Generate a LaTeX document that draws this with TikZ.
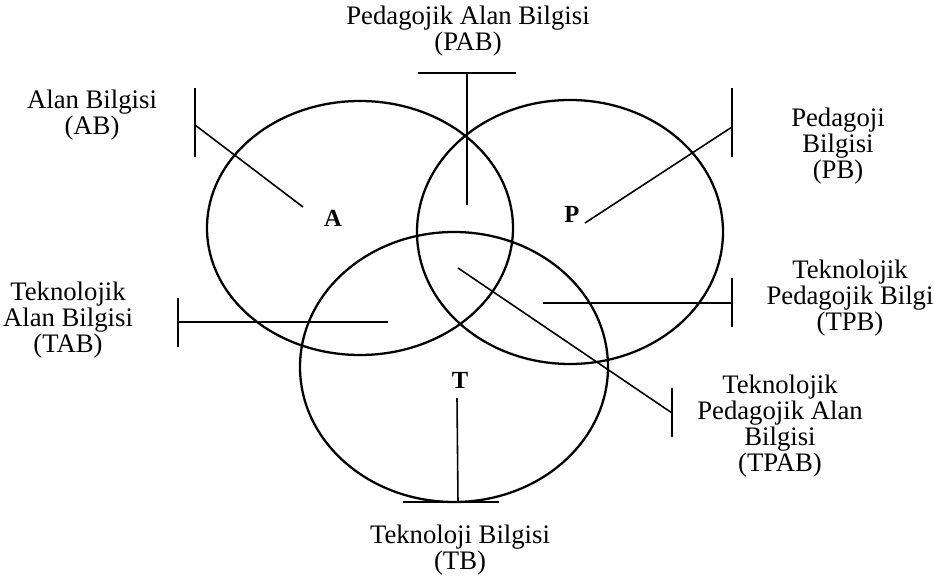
\documentclass[tikz,border=0pt]{standalone}
\usepackage{fontspec}
\setmainfont{Liberation Serif}
\usetikzlibrary{positioning}

\begin{document}
\begin{tikzpicture}[
  x=0.02cm, y=-0.02cm,
  ring/.style={line width=1.3pt},
  lead/.style={line width=0.9pt},
  lbl/.style={align=center, font=\fontsize{15.2}{14.8}\selectfont, inner sep=0pt},
  tag/.style={font=\fontsize{14}{14}\selectfont\bfseries, inner sep=0pt}
]
\useasboundingbox (0,0) rectangle (934,580);
% the three knowledge circles
\draw[ring] (360,228) ellipse [x radius=153, y radius=127];
\draw[ring] (570,232) ellipse [x radius=153, y radius=132];
\draw[ring] (454,367) ellipse [x radius=154, y radius=135];
\node[tag] (A) at (333,218) {A};
\node[tag] (P) at (572,214) {P};
\node[tag] (T) at (460,380) {T};
% labels
\node[lbl] (pab) at (468,31) {Pedagojik Alan Bilgisi\\(PAB)};
\node[lbl] (ab) at (92,115) {Alan Bilgisi\\(AB)};
\node[lbl] (pb) at (838,146) {Pedagoji\\Bilgisi\\(PB)};
\node[lbl] (tpb) at (850,298) {Teknolojik\\Pedagojik Bilgi\\(TPB)};
\node[lbl] (tpab) at (780,426) {Teknolojik\\Pedagojik Alan\\Bilgisi\\(TPAB)};
\node[lbl] (tab) at (68,320) {Teknolojik\\Alan Bilgisi\\(TAB)};
\node[lbl] (tb) at (460,550) {Teknoloji Bilgisi\\(TB)};
% bar ends and inner ends of the leaders
\coordinate (abBar) at (195,125);   \coordinate (abIn) at (303,207);
\coordinate (pabBar) at (467,73);   \coordinate (pabIn) at (467,205);
\coordinate (pbBar) at (732,127);   \coordinate (pbIn) at (585,223);
\coordinate (tpbBar) at (732,303);  \coordinate (tpbIn) at (543,303);
\coordinate (tpabBar) at (672,413); \coordinate (tpabIn) at (458,268);
\coordinate (tabBar) at (178,322);  \coordinate (tabIn) at (388,322);
\coordinate (tbBar) at (458,502);   \coordinate (tbIn) at (457,398);
\draw[lead] (abIn) -- (abBar);
\draw[lead] (pabIn) -- (pabBar);
\draw[lead] (pbIn) -- (pbBar);
\draw[lead] (tpbIn) -- (tpbBar);
\draw[lead] (tpabIn) -- (tpabBar);
\draw[lead] (tabIn) -- (tabBar);
\draw[lead] (tbIn) -- (tbBar);
% end bars
\draw[lead] (abBar) ++(0,-37) -- ++(0,69);
\draw[lead] (pabBar) ++(-49,0) -- ++(98,0);
\draw[lead] (pbBar) ++(0,-39) -- ++(0,69);
\draw[lead] (tpbBar) ++(0,-25) -- ++(0,49);
\draw[lead] (tpabBar) ++(0,-25) -- ++(0,49);
\draw[lead] (tabBar) ++(0,-24) -- ++(0,49);
\draw[lead] (tbBar) ++(-55,0) -- ++(96,0);
\end{tikzpicture}
\end{document}
